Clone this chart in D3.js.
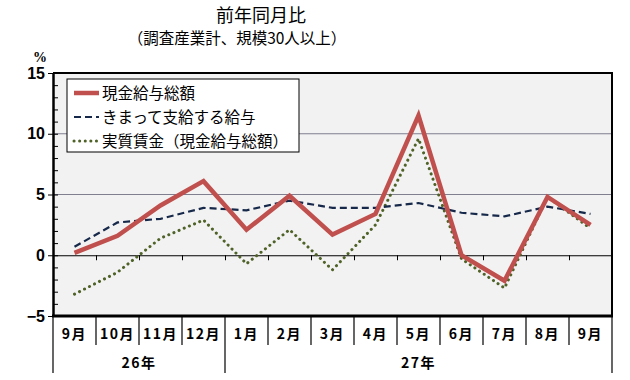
<!DOCTYPE html>
<html>
<head>
<meta charset="utf-8">
<script src="https://cdn.jsdelivr.net/npm/d3@7"></script>
<style>
  body { margin: 0; background: #fff; }
  svg { display: block; }
  text { font-family: "Liberation Sans", "Noto Sans CJK JP", sans-serif; }
  .jp { font-family: "Noto Sans CJK JP", sans-serif; }
</style>
</head>
<body>
<div id="chart"></div>
<script>
'use strict'

const width = 630;
const height = 380;

// months along the x axis, with the year row beneath
const months = ['9月', '10月', '11月', '12月', '1月', '2月', '3月', '4月', '5月', '6月', '7月', '8月', '9月'];
const years = [{ label: '26年', from: 0, to: 4 }, { label: '27年', from: 4, to: 13 }];

/* percent change on the same month a year earlier */
const cashEarnings = [0.2, 1.6, 4.1, 6.1, 2.1, 4.9, 1.7, 3.4, 11.5, 0.0, -2.1, 4.8, 2.5];
const scheduledPay = [0.7, 2.7, 3.0, 3.9, 3.7, 4.5, 3.9, 3.9, 4.3, 3.5, 3.2, 4.0, 3.4];
const realWages = [-3.2, -1.4, 1.4, 2.9, -0.7, 2.1, -1.2, 2.5, 9.6, -0.3, -2.7, 4.8, 2.2];

const seriesNames = ['現金給与総額', 'きまって支給する給与', '実質賃金（現金給与総額）'];
const yTicks = [-5, 0, 5, 10, 15];

const pLeft = 53, pRight = 612, pTop = 73, pBottom = 316;

const x = d3.scaleBand().domain(d3.range(months.length)).range([pLeft, pRight]).paddingInner(0).paddingOuter(0);
const y = d3.scaleLinear().domain([-5, 15]).range([pBottom, pTop]);
const edge = i => pLeft + i * x.step();

const svg = d3.select('#chart').append('svg')
    .attr('width', width)
    .attr('height', height);

/* titles */
svg.append('text').attr('class', 'jp')
    .attr('x', 261).attr('y', 22)
    .attr('text-anchor', 'middle')
    .style('font-size', '18px')
    .text('前年同月比');
svg.append('text').attr('class', 'jp')
    .attr('x', 237).attr('y', 44)
    .attr('text-anchor', 'middle')
    .style('font-size', '15.5px')
    .text('（調査産業計、規模30人以上）');
svg.append('text')
    .attr('x', 40).attr('y', 62)
    .attr('text-anchor', 'middle')
    .style('font-family', '"Liberation Serif", serif')
    .style('font-weight', 'bold')
    .style('font-size', '14px')
    .text('%');

/* plot background and grid */
svg.append('rect')
    .attr('x', pLeft).attr('y', pTop)
    .attr('width', pRight - pLeft).attr('height', pBottom - pTop)
    .attr('fill', '#f2f2f2');

svg.append('g').selectAll('line')
    .data([5, 10])
    .enter().append('line')
    .attr('x1', pLeft).attr('x2', pRight)
    .attr('y1', d => y(d)).attr('y2', d => y(d))
    .attr('stroke', '#7f7f8f').attr('stroke-width', 1);

/* top and right frame */
svg.append('path')
    .attr('d', `M${pLeft},${pTop}H${pRight}V${pBottom}`)
    .attr('fill', 'none').attr('stroke', '#000').attr('stroke-width', 2);

/* zero line with category ticks */
const zeroAxis = d3.axisBottom(d3.scaleLinear().domain([0, months.length]).range([pLeft, pRight]))
    .tickValues(d3.range(1, months.length))
    .tickSize(5)
    .tickSizeOuter(0)
    .tickFormat('');
svg.append('g')
    .attr('transform', `translate(0,${y(0)})`)
    .call(zeroAxis)
    .call(g => g.select('.domain').attr('stroke', '#000'));

/* y axis: major ticks outside, minor inside */
svg.append('g')
    .attr('transform', `translate(${pLeft},0)`)
    .call(d3.axisRight(y).tickValues(d3.range(-5, 16, 1)).tickSize(5).tickFormat(''))
    .call(g => g.select('.domain').remove());

svg.append('g')
    .attr('transform', `translate(${pLeft},0)`)
    .call(d3.axisLeft(y).tickValues(yTicks).tickSize(5).tickSizeOuter(0).tickPadding(3)
        .tickFormat(d => d < 0 ? '−' + Math.abs(d) : d))
    .call(g => g.select('.domain').attr('stroke-width', 2.5))
    .call(g => g.selectAll('text')
        .style('font-size', '16px')
        .style('font-weight', 'bold')
        .attr('fill', '#000'));

/* category table below the plot */
const table = svg.append('g');
table.append('line')
    .attr('x1', pLeft - 1).attr('x2', pRight + 1)
    .attr('y1', pBottom).attr('y2', pBottom)
    .attr('stroke', '#000').attr('stroke-width', 3);

table.selectAll('.div')
    .data(d3.range(0, months.length + 1))
    .enter().append('line')
    .attr('x1', d => edge(d)).attr('x2', d => edge(d))
    .attr('y1', pBottom)
    .attr('y2', d => (d === 0 || d === months.length || years.some(yr => yr.from === d)) ? 373 : 345)
    .attr('stroke', '#000').attr('stroke-width', 1.2);

table.selectAll('.month')
    .data(months)
    .enter().append('text').attr('class', 'jp')
    .attr('x', (d, i) => x(i) + x.bandwidth() / 2)
    .attr('y', 339)
    .attr('text-anchor', 'middle')
    .style('font-size', '14px')
    .style('font-weight', 'bold')
    .style('letter-spacing', '1.5px')
    .text(d => d);

table.selectAll('.year')
    .data(years)
    .enter().append('text').attr('class', 'jp')
    .attr('x', d => (edge(d.from) + edge(d.to)) / 2)
    .attr('y', 368)
    .attr('text-anchor', 'middle')
    .style('font-size', '14px')
    .style('font-weight', 'bold')
    .style('letter-spacing', '1.5px')
    .text(d => d.label);

/* lines */
const line = d3.line()
    .x((d, i) => x(i) + x.bandwidth() / 2)
    .y(d => y(d));

const styles = [
    { data: realWages, stroke: '#4f6228', width: 3, dash: '0.1,5.5', cap: 'round' },
    { data: scheduledPay, stroke: '#17294a', width: 2.2, dash: '7,4', cap: 'butt' },
    { data: cashEarnings, stroke: '#c0504d', width: 4.5, dash: null, cap: 'butt' }
];

styles.forEach(s => {
    svg.append('path')
        .datum(s.data)
        .attr('d', line)
        .attr('fill', 'none')
        .attr('stroke', s.stroke)
        .attr('stroke-width', s.width)
        .attr('stroke-dasharray', s.dash)
        .attr('stroke-linecap', s.cap)
        .attr('stroke-linejoin', 'miter');
});

/* legend */
const legend = svg.append('g').attr('transform', 'translate(67,79)');
legend.append('rect')
    .attr('width', 232).attr('height', 73)
    .attr('fill', '#fff').attr('stroke', '#000').attr('stroke-width', 1);

const legendItems = [styles[2], styles[1], styles[0]];
legendItems.forEach((s, i) => {
    const yy = 14 + i * 24;
    legend.append('line')
        .attr('x1', 7).attr('x2', 32)
        .attr('y1', yy).attr('y2', yy)
        .attr('stroke', s.stroke)
        .attr('stroke-width', s.width)
        .attr('stroke-dasharray', s.dash)
        .attr('stroke-linecap', s.cap);
    legend.append('text').attr('class', 'jp')
        .attr('x', 35).attr('y', yy + 5.5)
        .style('font-size', '15.5px')
        .text(seriesNames[i]);
});
</script>
</body>
</html>
